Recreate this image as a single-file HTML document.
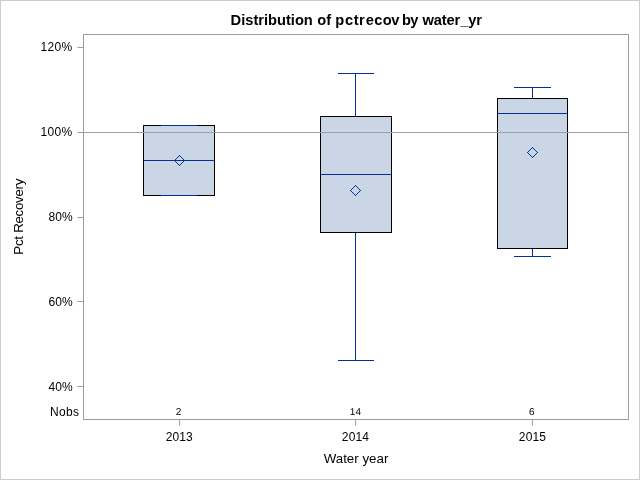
<!DOCTYPE html>
<html>
<head>
<meta charset="utf-8">
<title>Distribution of pctrecov by water_yr</title>
<style>
html,body{margin:0;padding:0;background:#fff;}
body{width:640px;height:480px;overflow:hidden;position:relative;font-family:"Liberation Sans",Arial,sans-serif;}
svg{position:absolute;left:0;top:0;display:block;}
text{font-family:"Liberation Sans",Arial,sans-serif;fill:#000;}
.tk{font-size:12px;letter-spacing:0.35px;}
.lb{font-size:13.33px;}
.nb{font-size:10px;letter-spacing:0.3px;}
.ttl{font-size:14.67px;font-weight:bold;}
</style>
</head>
<body>
<svg width="640" height="480" viewBox="0 0 640 480">
  <rect x="0" y="0" width="640" height="480" fill="#ffffff"/>
  <!-- outer border -->
  <rect x="0.5" y="0.5" width="639" height="479" fill="none" stroke="#cccccc" stroke-width="1" shape-rendering="crispEdges"/>

  <!-- title -->
  <text class="ttl" y="24.5"><tspan x="230.6">Distribution</tspan> <tspan x="317.2">of</tspan> <tspan x="335.3" dx="0 0.4 0.2 0 0.6 0 0 -0.7" style="letter-spacing:0.36px">pctrecov</tspan> <tspan x="402.1" style="letter-spacing:-0.9px">by</tspan> <tspan x="422.5" style="letter-spacing:-0.12px">water_yr</tspan></text>

  <!-- boxes fill -->
  <g shape-rendering="crispEdges">
    <rect x="143" y="125" width="72" height="71" fill="#cad5e5"/>
    <rect x="320" y="116" width="72" height="117" fill="#cad5e5"/>
    <rect x="497" y="98" width="71" height="151" fill="#cad5e5"/>
  </g>

  <!-- whiskers, caps, medians -->
  <g stroke="#003399" stroke-width="1" shape-rendering="crispEdges" fill="none">
    <!-- 2013 -->
    <line x1="143" y1="160.5" x2="215" y2="160.5"/>
    <!-- 2014 -->
    <line x1="355.5" y1="73" x2="355.5" y2="116"/>
    <line x1="338" y1="73.5" x2="374" y2="73.5"/>
    <line x1="355.5" y1="233" x2="355.5" y2="361"/>
    <line x1="338" y1="360.5" x2="374" y2="360.5"/>
    <line x1="320" y1="174.5" x2="392" y2="174.5"/>
    <!-- 2015 -->
    <line x1="532.5" y1="87" x2="532.5" y2="98"/>
    <line x1="514" y1="87.5" x2="551" y2="87.5"/>
    <line x1="532.5" y1="249" x2="532.5" y2="257"/>
    <line x1="514" y1="256.5" x2="551" y2="256.5"/>
    <line x1="497" y1="113.5" x2="568" y2="113.5"/>
  </g>

  <!-- box outlines -->
  <g stroke="#000000" stroke-width="1" shape-rendering="crispEdges" fill="none">
    <rect x="143.5" y="125.5" width="71" height="70"/>
    <rect x="320.5" y="116.5" width="71" height="116"/>
    <rect x="497.5" y="98.5" width="70" height="150"/>
  </g>
  <!-- 2013 caps drawn over outline -->
  <g stroke="#003399" stroke-width="1" shape-rendering="crispEdges">
    <line x1="161" y1="125.5" x2="197" y2="125.5"/>
    <line x1="161" y1="195.5" x2="197" y2="195.5"/>
  </g>

  <!-- reference line -->
  <line x1="84" y1="132.5" x2="628" y2="132.5" stroke="#9ba0a4" stroke-width="1" shape-rendering="crispEdges"/>

  <!-- mean diamonds -->
  <g stroke="#003399" stroke-width="1" fill="none" shape-rendering="crispEdges">
    <path d="M179.5 155.5 L184.5 160.5 L179.5 165.5 L174.5 160.5 Z"/>
    <path d="M355.5 185.5 L360.5 190.5 L355.5 195.5 L350.5 190.5 Z"/>
    <path d="M532.5 147.5 L537.5 152.5 L532.5 157.5 L527.5 152.5 Z"/>
  </g>

  <!-- frame -->
  <rect x="83.5" y="34.5" width="545" height="385" fill="none" stroke="#989ea1" stroke-width="1" shape-rendering="crispEdges"/>

  <!-- y ticks -->
  <g stroke="#989ea1" stroke-width="1" shape-rendering="crispEdges">
    <line x1="78" y1="47.5" x2="83" y2="47.5"/>
    <line x1="78" y1="132.5" x2="83" y2="132.5"/>
    <line x1="78" y1="217.5" x2="83" y2="217.5"/>
    <line x1="78" y1="301.5" x2="83" y2="301.5"/>
    <line x1="78" y1="386.5" x2="83" y2="386.5"/>
    <!-- x ticks -->
    <line x1="179.5" y1="420" x2="179.5" y2="425"/>
    <line x1="355.5" y1="420" x2="355.5" y2="425"/>
    <line x1="532.5" y1="420" x2="532.5" y2="425"/>
  </g>

  <g fill="#c3c7c9" shape-rendering="crispEdges">
    <rect x="77" y="47" width="1" height="1"/>
    <rect x="77" y="132" width="1" height="1"/>
    <rect x="77" y="217" width="1" height="1"/>
    <rect x="77" y="301" width="1" height="1"/>
    <rect x="77" y="386" width="1" height="1"/>
    <rect x="179" y="425" width="1" height="1"/>
    <rect x="355" y="425" width="1" height="1"/>
    <rect x="532" y="425" width="1" height="1"/>
  </g>

  <!-- y tick labels -->
  <g class="tk" text-anchor="end">
    <text x="72.6" y="51">120%</text>
    <text x="72.6" y="136">100%</text>
    <text x="72.8" y="221" style="letter-spacing:0.1px">80%</text>
    <text x="72.8" y="306" style="letter-spacing:0.1px">60%</text>
    <text x="72.8" y="391" style="letter-spacing:0.1px">40%</text>
  </g>
  <text class="tk" x="50" y="416">Nobs</text>

  <!-- nobs values -->
  <g class="nb" text-anchor="middle">
    <text transform="translate(178.8,415) rotate(0.05)">2</text>
    <text transform="translate(355.5,415) rotate(0.05)">14</text>
    <text transform="translate(532,415) rotate(0.05)">6</text>
  </g>

  <!-- x tick labels -->
  <g class="tk" text-anchor="middle" style="letter-spacing:0.15px">
    <text x="179.3" y="441">2013</text>
    <text x="355.5" y="441">2014</text>
    <text x="532.5" y="441">2015</text>
  </g>

  <!-- axis labels -->
  <text class="lb" x="356" y="463" text-anchor="middle">Water year</text>
  <text class="lb" transform="translate(22.8,216.8) rotate(-90)" text-anchor="middle" style="letter-spacing:-0.3px">Pct Recovery</text>
</svg>
</body>
</html>
